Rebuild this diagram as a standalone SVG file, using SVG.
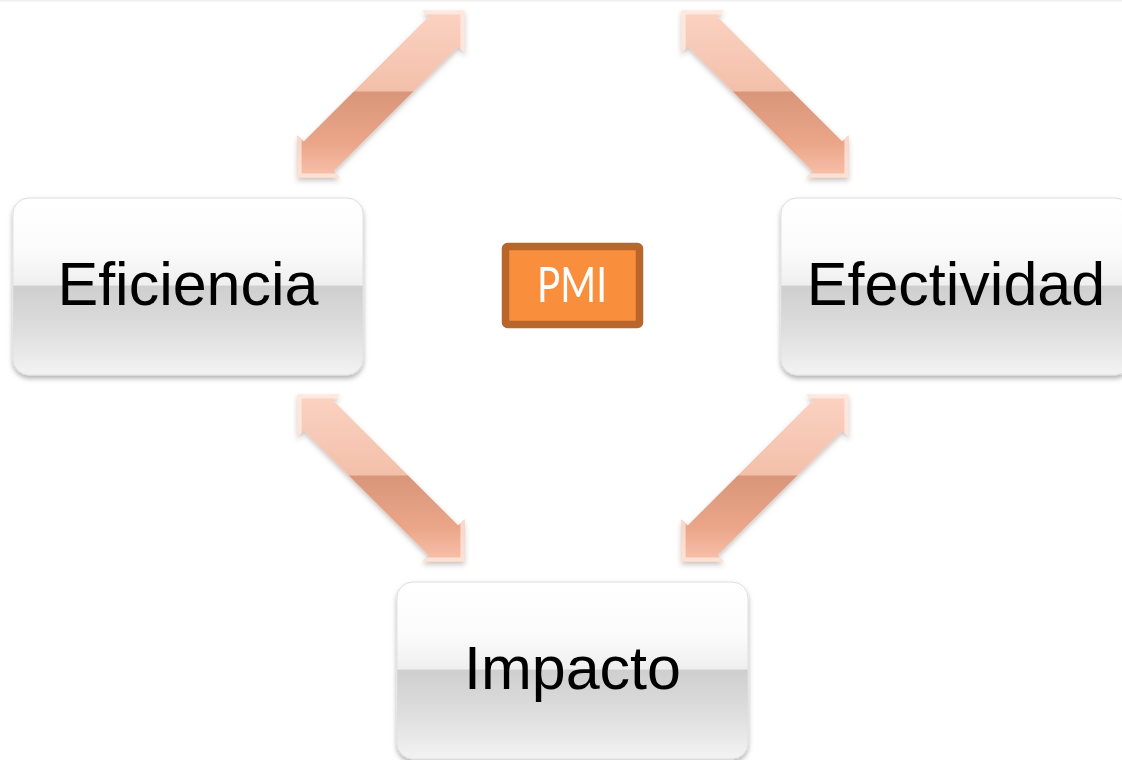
<svg xmlns="http://www.w3.org/2000/svg" xmlns:xlink="http://www.w3.org/1999/xlink" width="1122" height="760" viewBox="0 0 1122 760">
  <defs>
    <style>
      .box { fill: url(#boxGrad); stroke: #dedede; stroke-width: 1; filter: url(#boxShadow); }
      .label { font-family: "Liberation Sans", Arial, sans-serif; font-size: 61px; fill: #000; text-anchor: middle; }
      .pmi-text { font-family: "Lato", "Open Sans", sans-serif; font-size: 48px; fill: #ffffff; text-anchor: middle; }
      .bevel { fill: #fff4ee; fill-opacity: 0.65; }
    </style>
    <linearGradient id="boxGrad" x1="0" y1="0" x2="0" y2="1">
      <stop offset="0" stop-color="#ffffff"/>
      <stop offset="0.3" stop-color="#fbfbfb"/>
      <stop offset="0.49" stop-color="#efefef"/>
      <stop offset="0.5" stop-color="#cfcfcf"/>
      <stop offset="0.75" stop-color="#dedede"/>
      <stop offset="1" stop-color="#f3f3f3"/>
    </linearGradient>
    <linearGradient id="arrowGrad" x1="0" y1="0" x2="0" y2="1">
      <stop offset="0" stop-color="#fbd2c2"/>
      <stop offset="0.48" stop-color="#f3c0aa"/>
      <stop offset="0.49" stop-color="#d99679"/>
      <stop offset="0.8" stop-color="#eba68a"/>
      <stop offset="1" stop-color="#f8c2aa"/>
    </linearGradient>
    <filter id="boxShadow" x="-10%" y="-10%" width="120%" height="125%">
      <feDropShadow dx="0" dy="3" stdDeviation="2.5" flood-color="#000" flood-opacity="0.3"/>
    </filter>
    <filter id="arrowShadow" x="-15%" y="-15%" width="130%" height="135%">
      <feDropShadow dx="0" dy="3" stdDeviation="2.5" flood-color="#5a3a2a" flood-opacity="0.3"/>
    </filter>
    <g id="dblArrow">
      <path d="M83.4,-83.4 L83.4,-41.4 L77.3,-47.6 L-47.6,77.3 L-41.4,83.4 L-83.4,83.4 L-83.4,41.4 L-77.3,47.6 L47.6,-77.3 L41.4,-83.4 Z" fill="url(#arrowGrad)"/>
      <path class="bevel" d="M83.4,-83.4 L41.4,-83.4 L45.4,-79.4 L79.4,-79.4 L79.4,-45.4 L83.4,-41.4 Z"/>
      <path class="bevel" d="M-83.4,83.4 L-41.4,83.4 L-45.4,79.4 L-79.4,79.4 L-79.4,45.4 L-83.4,41.4 Z"/>
    </g>
  </defs>

  <rect x="0" y="0" width="1122" height="760" fill="#ffffff"/>
  <rect x="0" y="0" width="1122" height="1.5" fill="#efefef"/>

  <g id="connectors" filter="url(#arrowShadow)">
    <use xlink:href="#dblArrow" href="#dblArrow" transform="translate(381,94)"/>
    <use xlink:href="#dblArrow" href="#dblArrow" transform="translate(765,94) scale(-1,1)"/>
    <use xlink:href="#dblArrow" href="#dblArrow" transform="translate(381,478) scale(-1,1)"/>
    <use xlink:href="#dblArrow" href="#dblArrow" transform="translate(765,478)"/>
  </g>

  <g id="node-eficiencia">
    <rect class="box" x="13" y="198" width="350" height="177" rx="16" ry="16"/>
    <text class="label" x="188" y="305">Eficiencia</text>
  </g>

  <g id="node-efectividad">
    <rect class="box" x="781" y="198" width="350" height="177" rx="16" ry="16"/>
    <text class="label" x="956" y="305">Efectividad</text>
  </g>

  <g id="node-impacto">
    <rect class="box" x="397" y="582" width="351" height="177" rx="16" ry="16"/>
    <text class="label" x="572.5" y="689">Impacto</text>
  </g>

  <g id="node-pmi">
    <rect x="505.5" y="246.5" width="134" height="78" rx="2" ry="2" fill="#f98e3d" stroke="#b8662b" stroke-width="7.5"/>
    <text class="pmi-text" x="572" y="302" textLength="70" lengthAdjust="spacingAndGlyphs">PMI</text>
  </g>
</svg>
